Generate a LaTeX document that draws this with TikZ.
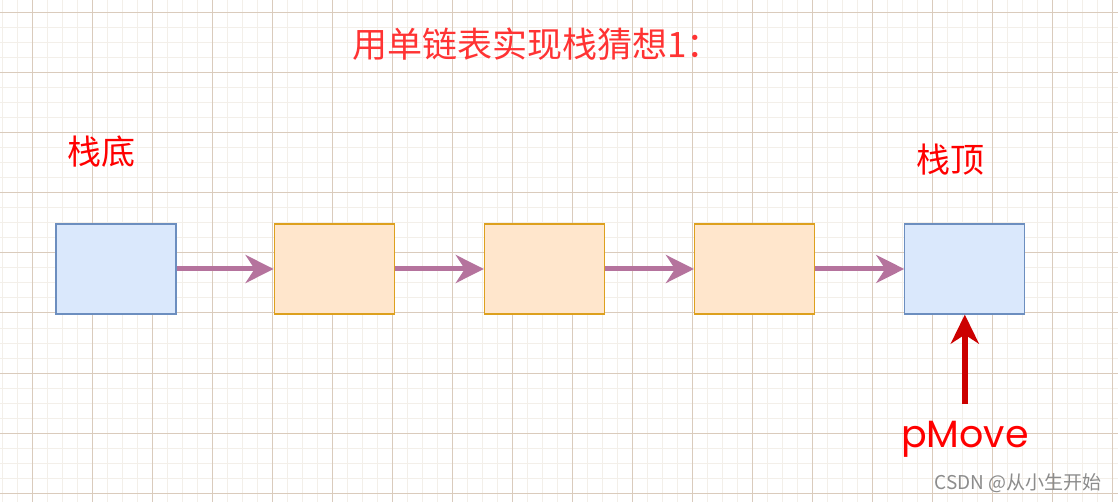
\documentclass[tikz,border=0pt]{standalone}
\usepackage{fontspec}
\newfontfamily\cjk{Noto Sans CJK SC}
\newfontfamily\ptrfont{Poppins}
\usetikzlibrary{positioning, arrows.meta}

\definecolor{gridminor}{HTML}{F3EFE9}
\definecolor{gridmajor}{HTML}{DACBBC}
\definecolor{basefill}{HTML}{DAE8FC}
\definecolor{basedraw}{HTML}{6C8EBF}
\definecolor{midfill}{HTML}{FFE6CC}
\definecolor{middraw}{HTML}{DDA01E}
\definecolor{linkpurple}{HTML}{B5739D}
\definecolor{ptrred}{HTML}{CC0000}
\definecolor{titlered}{HTML}{FF3333}
\definecolor{markgray}{HTML}{8C8C8C}

\tikzset{
  basebox/.style={draw=basedraw, fill=basefill, line width=1.2pt, minimum width=120pt, minimum height=90pt, inner sep=0pt},
  midbox/.style={basebox, draw=middraw, fill=midfill},
  link/.style={-{Stealth[length=28pt, width=28pt, inset=9pt]}, linkpurple, line width=5pt},
  pointer/.style={-{Stealth[length=29pt, width=28pt, inset=9pt]}, ptrred, line width=5.5pt},
  redlabel/.style={text=red, inner sep=0pt, font=\cjk\fontsize{34pt}{38pt}\selectfont}
}

\begin{document}
\begin{tikzpicture}[x=1pt, y=-1pt, node distance=89pt, >=Stealth]
  \useasboundingbox (0,0) rectangle (1118,502);
  \fill[white] (0,0) rectangle (1118,502);
  % background grid
  \foreach \x in {2,17,...,1117} \draw[gridminor, line width=1pt] (\x,0) -- (\x,502);
  \foreach \y in {13,28,...,501} \draw[gridminor, line width=1pt] (0,\y) -- (1118,\y);
  \foreach \x in {32,92,...,1112} \draw[gridmajor, line width=1pt] (\x,0) -- (\x,502);
  \foreach \y in {13,73,...,493} \draw[gridmajor, line width=1pt] (0,\y) -- (1118,\y);

  \node (title) [anchor=west, text=titlered, inner sep=0pt, font=\cjk\fontsize{35pt}{40pt}\selectfont] at (352,44) {用单链表实现栈猜想1：};

  % the list
  \node (bottom) [basebox] at (116,269) {};
  \node (n1) [midbox, right=97pt of bottom] {};
  \node (n2) [midbox, right=of n1] {};
  \node (n3) [midbox, right=of n2] {};
  \node (top) [basebox, right=of n3] {};
  \draw[link] (bottom) -- (n1);
  \draw[link] (n1) -- (n2);
  \draw[link] (n2) -- (n3);
  \draw[link] (n3) -- (top);

  \node (bottomlabel) [redlabel] at (101,152) {栈底};
  \node (toplabel) [redlabel] at (950,160) {栈顶};

  % pointer
  \coordinate[below=89pt of top.south] (ptr);
  \draw[pointer] (ptr) -- (top.south);
  \node (ptrlabel) [below=17pt of ptr, text=red, inner sep=0pt, font=\ptrfont\fontsize{38pt}{42pt}\selectfont] {pMove};

  \node (mark) [anchor=east, text=markgray, inner sep=0pt, font=\cjk\fontsize{19pt}{22pt}\selectfont] at (1102,483) {CSDN @从小生开始};
\end{tikzpicture}
\end{document}
